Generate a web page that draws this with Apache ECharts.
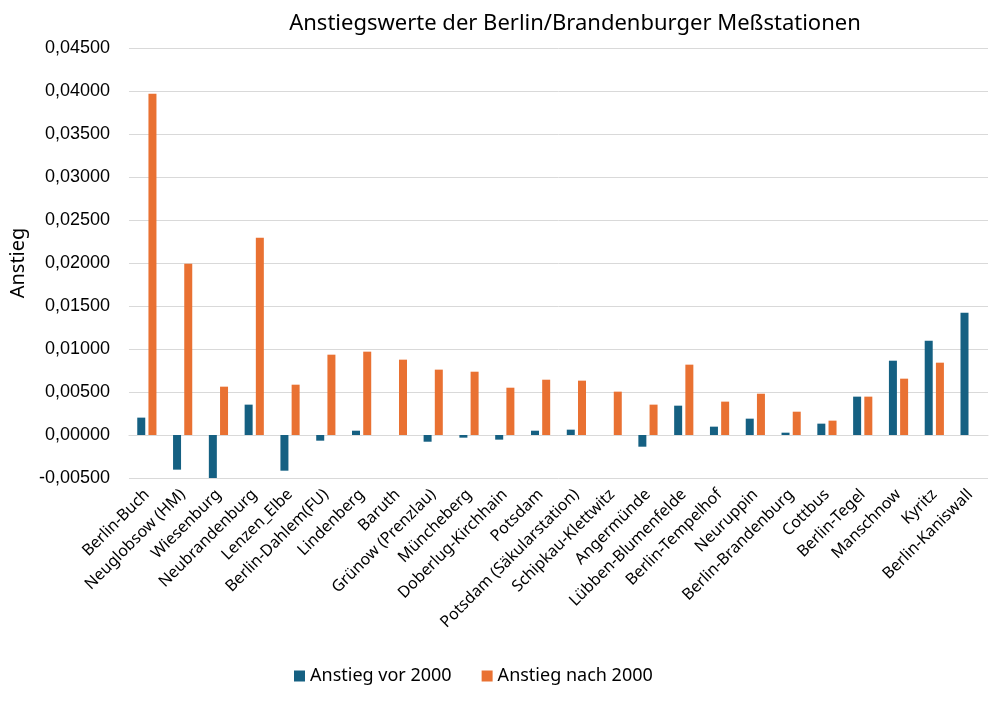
<!DOCTYPE html>
<html>
<head>
<meta charset="utf-8">
<script src="https://cdn.jsdelivr.net/npm/echarts@6/dist/echarts.min.js"></script>
<style>html,body{margin:0;padding:0;background:#fff}#c{width:1001px;height:708px}</style>
</head>
<body>
<div id="c"></div>
<script>
const categories = ["Berlin-Buch","Neuglobsow (HM)","Wiesenburg","Neubrandenburg","Lenzen_Elbe","Berlin-Dahlem(FU)","Lindenberg","Baruth","Grünow (Prenzlau)","Müncheberg","Doberlug-Kirchhain","Potsdam","Potsdam (Säkularstation)","Schipkau-Klettwitz","Angermünde","Lübben-Blumenfelde","Berlin-Tempelhof","Neuruppin","Berlin-Brandenburg","Cottbus","Berlin-Tegel","Manschnow","Kyritz","Berlin-Kaniswall"];
const vor2000 = [0.00202,-0.00403,-0.00508,0.00353,-0.00415,-0.00066,0.0005,0,-0.00078,-0.00031,-0.00054,0.0005,0.00062,0,-0.00136,0.00341,0.00097,0.0019,0.00027,0.00132,0.00446,0.00864,0.01097,0.01422];
const nach2000 = [0.03969,0.01992,0.00562,0.02295,0.00585,0.00934,0.00969,0.00876,0.0076,0.00736,0.0055,0.00643,0.00632,0.00504,0.00353,0.00818,0.00388,0.0048,0.00271,0.00167,0.00446,0.00655,0.00841,0];
const seriesNames = ["Anstieg vor 2000","Anstieg nach 2000"];

const font = "Noto Sans";
const chart = echarts.init(document.getElementById('c'), null, {renderer:'canvas'});
chart.setOption({
  animation:false,
  textStyle:{fontFamily:font},
  title:{text:"Anstiegswerte der Berlin/Brandenburger Meßstationen",left:570,textAlign:'center',top:8,
    textStyle:{fontFamily:font,fontSize:22,fontWeight:'normal',color:'#000'}},
  legend:{top:662,left:289,itemWidth:11,itemHeight:11,itemGap:30,icon:'rect',
    textStyle:{fontFamily:font,fontSize:18,color:'#000'}},
  grid:{left:127,right:13,top:48,bottom:230,containLabel:false},
  xAxis:{type:'category',data:categories,
    axisLine:{lineStyle:{color:'#d9d9d9'}},axisTick:{show:false},
    axisLabel:{rotate:45,interval:0,fontSize:16,color:'#000',fontFamily:font,margin:14}},
  yAxis:{type:'value',min:-0.005,max:0.045,interval:0.005,
    name:"Anstieg",nameLocation:'middle',nameGap:100,nameRotate:90,
    nameTextStyle:{fontSize:20,color:'#000',fontFamily:font},
    axisLine:{show:false},axisTick:{show:false},
    splitLine:{lineStyle:{color:'#d9d9d9'}},
    axisLabel:{fontSize:18,color:'#000',fontFamily:'Liberation Sans',margin:19,
      formatter:v=>v.toFixed(5).replace('.',',')}},
  series:[
    {name:seriesNames[0],type:'bar',data:vor2000,barWidth:8,barGap:'40%',itemStyle:{color:'#156082'}},
    {name:seriesNames[1],type:'bar',data:nach2000,barWidth:8,itemStyle:{color:'#E97132'}}
  ]
});
</script>
</body>
</html>
